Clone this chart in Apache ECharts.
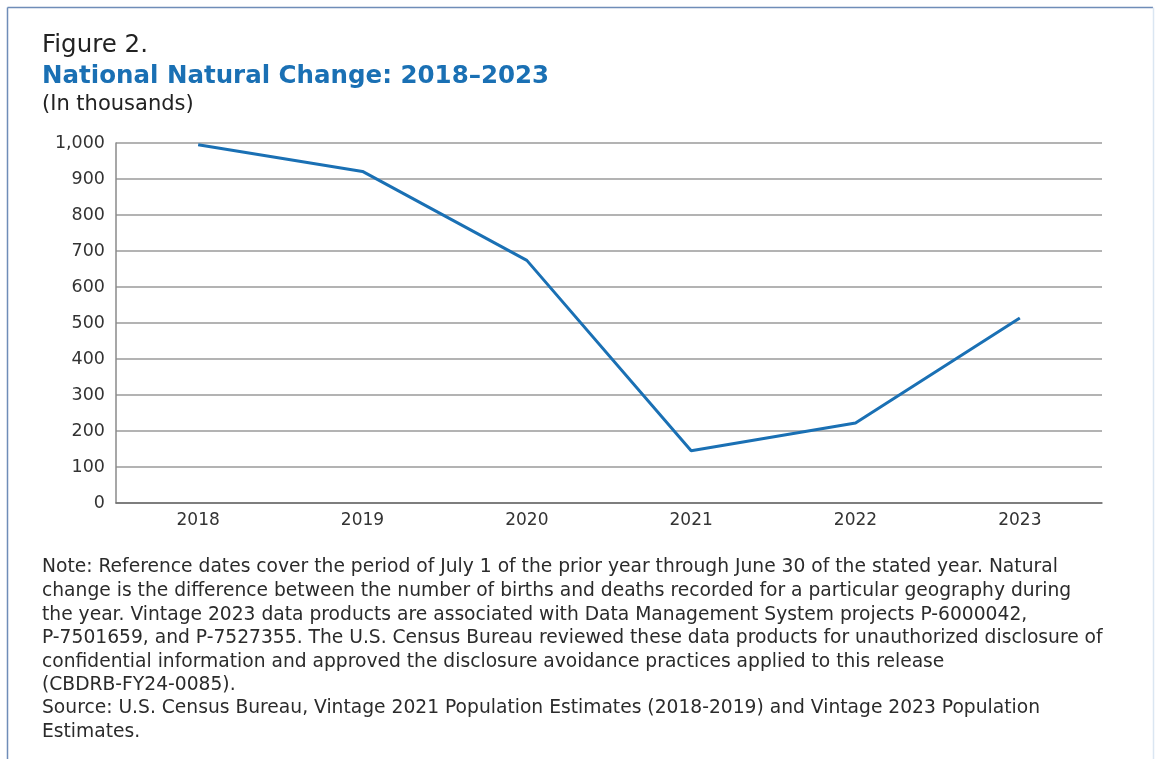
<!DOCTYPE html>
<html>
<head>
<meta charset="utf-8">
<script src="https://cdn.jsdelivr.net/npm/echarts@6/dist/echarts.min.js"></script>
<style>
  html, body { margin: 0; padding: 0; background: #ffffff; }
  #chart { width: 1155px; height: 759px; }
</style>
</head>
<body>
<div id="chart"></div>
<script>
// Natural change (births minus deaths), in thousands
const years = ['2018', '2019', '2020', '2021', '2022', '2023'];
const naturalChange = [995, 921, 674, 145, 222, 514];
const yTicks = [0, 100, 200, 300, 400, 500, 600, 700, 800, 900, 1000];

const noteLines = [
  'Note: Reference dates cover the period of July 1 of the prior year through June 30 of the stated year. Natural',
  'change is the difference between the number of births and deaths recorded for a particular geography during',
  'the year. Vintage 2023 data products are associated with Data Management System projects P-6000042,',
  'P-7501659, and P-7527355. The U.S. Census Bureau reviewed these data products for unauthorized disclosure of',
  'confidential information and approved the disclosure avoidance practices applied to this release',
  '(CBDRB-FY24-0085).'
];
const sourceLines = [
  'Source: U.S. Census Bureau, Vintage 2021 Population Estimates (2018-2019) and Vintage 2023 Population',
  'Estimates.'
];

const FONT = '"DejaVu Sans", "Open Sans", sans-serif';
const BLUE = '#1a70b4';

const chart = echarts.init(document.getElementById('chart'), null, { renderer: 'canvas' });

const textEls = [];
noteLines.forEach((t, i) => {
  textEls.push({ type: 'text', left: 42, top: 558 + i * 23.6,
    style: { text: t, font: '18.7px ' + FONT, fill: '#2b2b2b' } });
});
sourceLines.forEach((t, i) => {
  textEls.push({ type: 'text', left: 42, top: 699 + i * 23.6,
    style: { text: t, font: '18.7px ' + FONT, fill: '#2b2b2b' } });
});

chart.setOption({
  backgroundColor: '#ffffff',
  animation: false,
  grid: { left: 116, right: 53, top: 143, bottom: 256, containLabel: false },
  xAxis: {
    type: 'category',
    data: years,
    boundaryGap: true,
    axisLine: { lineStyle: { color: '#6e6e6e', width: 1.5 } },
    axisTick: { alignWithLabel: true, inside: true, length: 8, lineStyle: { color: '#9a9a9a', width: 1 } },
    axisLabel: { color: '#333', fontSize: 17, fontFamily: FONT, margin: 9 }
  },
  yAxis: {
    type: 'value',
    min: 0, max: 1000, interval: 100,
    axisLine: { show: true, lineStyle: { color: '#8a8a8a', width: 1.5 } },
    axisTick: { show: false },
    axisLabel: {
      color: '#333', fontSize: 17.5, fontFamily: FONT, margin: 11,
      formatter: v => yTicks.includes(v) ? v.toLocaleString('en-US') : ''
    },
    splitLine: { lineStyle: { color: '#9a9a9a', width: 1.5 } }
  },
  series: [{
    type: 'line',
    data: naturalChange,
    symbol: 'none',
    lineStyle: { color: BLUE, width: 3 },
    z: 5
  }],
  graphic: [
    // frame around the figure
    { type: 'line', shape: { x1: 7.5, y1: 7.5, x2: 1153, y2: 7.5 }, style: { stroke: '#6f8db8', lineWidth: 1.5 } },
    { type: 'line', shape: { x1: 7.5, y1: 7.5, x2: 7.5, y2: 759 }, style: { stroke: '#6f8db8', lineWidth: 1.5 } },
    { type: 'line', shape: { x1: 1153.5, y1: 7.5, x2: 1153.5, y2: 759 }, style: { stroke: '#dbe6f2', lineWidth: 1.5 } },
    { type: 'text', left: 42, top: 33, style: { text: 'Figure 2.', font: '24.5px ' + FONT, fill: '#222' } },
    { type: 'text', left: 42, top: 64, style: { text: 'National Natural Change: 2018–2023', font: 'bold 24.5px ' + FONT, fill: BLUE } },
    { type: 'text', left: 42, top: 94, style: { text: '(In thousands)', font: '21px ' + FONT, fill: '#222' } }
  ].concat(textEls)
});
</script>
</body>
</html>
